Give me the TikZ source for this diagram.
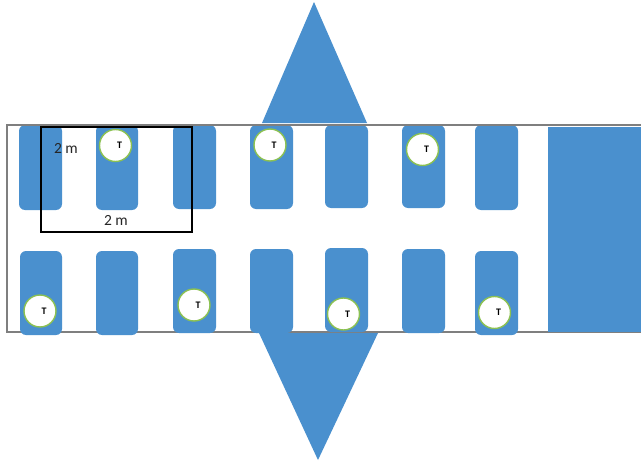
\documentclass[tikz,border=0pt]{standalone}
\usepackage{fontspec}
\setmainfont{Carlito}
\definecolor{seatblue}{HTML}{4A90CE}
\definecolor{framegray}{HTML}{7F7F7F}
\definecolor{ringgreen}{HTML}{8CC152}
\tikzset{
  x=1pt,y=-1pt,
  seat/.style={fill=seatblue,draw=none,rounded corners=6pt},
  solid block/.style={fill=seatblue,draw=none},
  frameline/.style={draw=framegray,line width=1.6pt},
  person/.style={circle,draw=ringgreen,line width=1.4pt,fill=white,minimum size=32pt,inner sep=0pt,font=\fontsize{10}{10}\selectfont\bfseries},
  gridbox/.style={draw=black,line width=1.3pt},
  dim/.style={font=\fontsize{15.5}{16}\selectfont,text=black!85,inner sep=0pt}
}
\begin{document}
\begin{tikzpicture}
\useasboundingbox (0,0) rectangle (641,463);
\fill[white] (0,0) rectangle (641,463);
% frame: sides and bottom lie under the seats
\draw[frameline] (7,125) -- (7,332) -- (641,332);
% arrows and end block
\fill[solid block] (314,2) -- (367,123) -- (262,123) -- cycle;
\fill[solid block] (259,333) -- (378,333) -- (318,460) -- cycle;
\fill[solid block] (548,127) rectangle (641,332);
% seats
\foreach \a/\b/\c/\d in {19/62/125/210,96/138/125/210,173/216/125/209,250/293/125/209,325/368/125/208,402/445/125/208,475/518/125/210,
  20/62/251/335,96/138/251/335,173/216/249/333,250/293/249/333,325/368/248/332,402/445/249/333,475/518/251/335}
  \fill[seat] (\a,\c) rectangle (\b,\d);
% top edge lies over the seats
\draw[frameline] (6.2,125) -- (641,125);
% people
\foreach \n/\px/\py in {a/115.5/145.5,b/270/145,c/422.5/149.5,d/40/311,e/194/305,f/343.5/314,g/494.5/312.5}
  \node[person] (p\n) at (\px,\py) {\hspace{8pt}\raisebox{-1.5pt}{T}};
% measure box
\draw[gridbox] (41,127) rectangle (192,232);
\node[dim] (dimh) at (66,148) {2 m};
\node[dim] (dimw) at (116,220) {2 m};
\end{tikzpicture}
\end{document}
